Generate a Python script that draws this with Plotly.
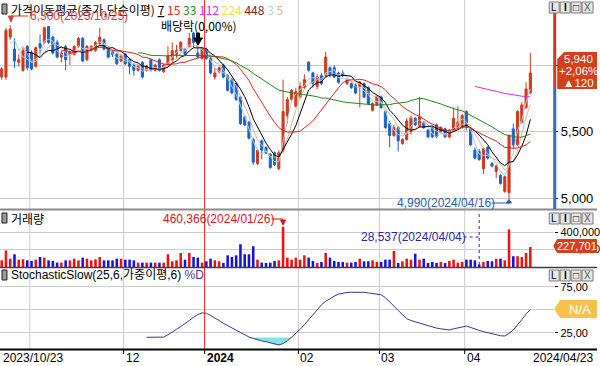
import pandas as pd
import plotly.graph_objects as go

# ---------------- data ----------------
holidays = ["2023-12-25", "2023-12-29", "2024-01-01", "2024-02-09",
            "2024-02-12", "2024-03-01", "2024-04-10"]
dates = [d.strftime("%Y-%m-%d") for d in pd.bdate_range("2023-10-23", "2024-04-23")
         if d.strftime("%Y-%m-%d") not in holidays]

open_ = [5910, 5910, 6210, 6120, 6020, 5960, 6140, 6090, 5990, 6160,
         6170, 6290, 6210, 6170, 6060, 6140, 6080, 6080, 6140, 6200,
         6040, 6110, 6110, 6160, 6190, 6130, 6100, 6080, 6030, 6080,
         6040, 6000, 5960, 6020, 5960, 6040, 5960, 6040, 5950, 6000,
         6040, 6080, 6110, 6120, 6140, 6240, 6090, 6050, 6120, 6050,
         5910, 5950, 6000, 5920, 5890, 5860, 5760, 5610, 5570, 5440,
         5260, 5430, 5380, 5330, 5340, 5220, 5360, 5620, 5740, 5690,
         5760, 5830, 6020, 5940, 5840, 5920, 5920, 5980, 5980, 5940,
         5940, 5860, 5860, 5850, 5840, 5860, 5830, 5660, 5700, 5760,
         5650, 5560, 5470, 5530, 5410, 5440, 5500, 5600, 5540, 5570,
         5510, 5530, 5550, 5500, 5520, 5460, 5510, 5530, 5530, 5650,
         5520, 5360, 5350, 5220, 5380, 5260, 5200, 5170, 5050, 5040,
         5520, 5400, 5570, 5680, 5790]
high = [5985, 6280, 6300, 6200, 6080, 6130, 6150, 6110, 6140, 6230,
        6290, 6290, 6220, 6190, 6110, 6150, 6110, 6150, 6210, 6210,
        6150, 6150, 6180, 6280, 6200, 6140, 6110, 6090, 6080, 6090,
        6050, 6010, 6000, 6030, 6000, 6050, 6010, 6050, 6010, 6140,
        6170, 6150, 6180, 6130, 6240, 6250, 6190, 6130, 6130, 6060,
        5980, 5990, 6010, 5930, 5900, 5870, 5770, 5620, 5580, 5450,
        5370, 5440, 5390, 5340, 5350, 5360, 5890, 5760, 5820, 5830,
        5870, 5930, 6030, 5950, 5930, 5940, 6100, 5990, 6000, 5950,
        5960, 5900, 5870, 5860, 5880, 5870, 5840, 5720, 5770, 5770,
        5660, 5580, 5550, 5540, 5450, 5600, 5620, 5610, 5760, 5580,
        5520, 5540, 5560, 5540, 5530, 5520, 5680, 5690, 5630, 5660,
        5530, 5380, 5370, 5380, 5390, 5270, 5250, 5180, 5170, 5480,
        5560, 5660, 5720, 5870, 6090]
low = [5890, 5890, 6190, 5980, 5990, 5950, 5960, 5960, 5980, 6080,
       6160, 6160, 6080, 6050, 6020, 5960, 6000, 6070, 6130, 6020,
       6030, 6100, 6100, 6150, 6110, 6050, 6060, 6000, 6020, 6000,
       5930, 5920, 5950, 5900, 5950, 5950, 5950, 5950, 5940, 5990,
       6010, 6050, 6100, 6070, 6130, 6130, 6050, 6040, 6040, 5930,
       5890, 5940, 5900, 5800, 5780, 5730, 5550, 5540, 5440, 5250,
       5250, 5290, 5330, 5220, 5240, 5210, 5340, 5560, 5730, 5680,
       5750, 5820, 5950, 5830, 5820, 5850, 5910, 5910, 5900, 5860,
       5910, 5850, 5820, 5780, 5680, 5750, 5700, 5650, 5690, 5670,
       5520, 5380, 5460, 5350, 5400, 5430, 5480, 5540, 5530, 5520,
       5450, 5450, 5450, 5490, 5450, 5450, 5500, 5510, 5520, 5510,
       5390, 5290, 5280, 5180, 5290, 5230, 5150, 5100, 5040, 4990,
       5370, 5390, 5560, 5670, 5780]
close = [5970, 6260, 6270, 6030, 6040, 6110, 5980, 5970, 6130, 6130,
         6280, 6170, 6090, 6060, 6090, 6040, 6100, 6140, 6200, 6030,
         6140, 6140, 6170, 6210, 6120, 6060, 6080, 6010, 6070, 6010,
         5990, 5960, 5990, 5910, 5990, 5960, 6000, 5960, 6000, 6070,
         6110, 6110, 6170, 6080, 6200, 6170, 6060, 6120, 6050, 5940,
         5940, 5980, 5910, 5810, 5790, 5740, 5560, 5550, 5450, 5270,
         5360, 5360, 5340, 5230, 5250, 5340, 5650, 5740, 5810, 5800,
         5840, 5890, 5960, 5860, 5910, 5860, 6060, 5930, 5910, 5870,
         5920, 5890, 5830, 5790, 5870, 5760, 5710, 5710, 5760, 5680,
         5530, 5470, 5530, 5430, 5440, 5580, 5600, 5550, 5610, 5530,
         5460, 5460, 5460, 5530, 5460, 5510, 5600, 5570, 5620, 5530,
         5400, 5300, 5290, 5370, 5300, 5240, 5240, 5110, 5160, 5470,
         5400, 5650, 5700, 5820, 5940]
volume = [76000, 190000, 95000, 145000, 84000, 88000, 76000, 69000, 84000, 114000,
          107000, 76000, 69000, 50000, 50000, 76000, 76000, 95000, 76000, 107000,
          95000, 76000, 88000, 114000, 76000, 76000, 76000, 95000, 95000, 84000,
          84000, 76000, 50000, 50000, 50000, 50000, 50000, 50000, 50000, 145000,
          65000, 76000, 160000, 84000, 160000, 114000, 107000, 50000, 65000, 95000,
          76000, 65000, 46000, 133000, 114000, 133000, 259000, 145000, 145000, 236000,
          84000, 50000, 46000, 50000, 69000, 76000, 460366, 107000, 84000, 107000,
          84000, 133000, 107000, 69000, 46000, 57000, 160000, 107000, 69000, 57000,
          57000, 50000, 50000, 57000, 95000, 65000, 65000, 76000, 57000, 57000,
          84000, 84000, 183000, 46000, 65000, 95000, 84000, 152000, 84000, 95000,
          46000, 57000, 46000, 57000, 46000, 69000, 84000, 50000, 57000, 84000,
          84000, 76000, 28537, 57000, 69000, 65000, 95000, 95000, 76000, 430000,
          122000, 122000, 114000, 160000, 227701]
stoch_d = [None] * 34 + [
    20.3, 20.2, 20.1, 20.0, 20.5, 23, 26.4, 29, 32, 35,
    38.5, 42, 45, 46.8, 46.5, 44, 41.5, 38.5, 35.5, 33,
    30.4, 28, 25.5, 23, 20.6, 19, 17.5, 16.3, 15.5, 14.5,
    13, 12, 13.5, 16.5, 20.5, 24.5, 29, 34, 39.5, 45,
    51, 55.5, 59.5, 62.5, 65, 67.2, 68.3, 69, 69.2, 69.3,
    69.3, 69.2, 68.5, 67.7, 67, 66.5, 63.5, 58.5, 54, 49.5,
    45, 40.5, 38.5, 37, 35.7, 34.3, 33, 31.5, 30.3, 29.5,
    28.5, 28.3, 29.5, 30.3, 31.5, 32.5, 31, 29, 27.8, 26.5,
    25.2, 24, 23, 22, 21.7, 24.5, 28.3, 33.5, 39.5, 45.5,
    50.5]
ma_periods = [3, 5, 7, 15, 33, 112]
ma_colors = {3: "#9fd3ec", 5: "#d9b39a", 7: "#000000", 15: "#e0241c",
             33: "#1e8a1e", 112: "#e02ae0"}

# ---------------- styling ----------------
W, H = 600, 366
RED, BLUE = "#d2391d", "#1f62c3"
VRED, VBLUE = "#ee1111", "#1414d8"
GRID = "#cccccc"
LAT = "Liberation Sans, Noto Sans CJK KR, sans-serif"
KR = "Noto Sans CJK KR, sans-serif"


def X(p):
    return p / W


def Y(p):
    return 1 - p / H


def path(pts):
    s = "M " + " L ".join(f"{X(a):.5f},{Y(b):.5f}" for a, b in pts) + " Z"
    return s


fig = go.Figure()

# price candles
fig.add_trace(go.Candlestick(
    x=dates, open=open_, high=high, low=low, close=close,
    increasing=dict(line=dict(color=RED, width=1), fillcolor=RED),
    decreasing=dict(line=dict(color=BLUE, width=1), fillcolor=BLUE),
    whiskerwidth=0, xaxis="x", yaxis="y", hoverinfo="skip"))

cs = pd.Series(close, dtype=float)
for n in ma_periods:
    ma = cs.rolling(n).mean()
    fig.add_trace(go.Scatter(x=dates, y=ma.tolist(), mode="lines",
                             line=dict(color=ma_colors[n], width=1),
                             xaxis="x", yaxis="y", hoverinfo="skip"))

# volume
vcolors = [VRED if c >= o else VBLUE for o, c in zip(open_, close)]
fig.add_trace(go.Bar(x=dates, y=volume, marker=dict(color=vcolors, line=dict(width=0)),
                     width=0.6, xaxis="x2", yaxis="y2", hoverinfo="skip"))

# stochastic fill below 20
idx = [i for i, v in enumerate(stoch_d) if v is not None and v < 20]
lo, hi = min(idx) - 1, max(idx) + 1
fx = dates[lo:hi + 1]
fig.add_trace(go.Scatter(x=fx, y=[20] * len(fx), mode="lines", line=dict(width=0),
                         xaxis="x3", yaxis="y3", hoverinfo="skip"))
fig.add_trace(go.Scatter(x=fx, y=[min(v, 20) for v in stoch_d[lo:hi + 1]], mode="lines",
                         line=dict(width=0), fill="tonexty", fillcolor="#7ee6e0",
                         xaxis="x3", yaxis="y3", hoverinfo="skip"))
fig.add_trace(go.Scatter(x=dates, y=stoch_d, mode="lines", line=dict(color="#4b2d8f", width=1),
                         xaxis="x3", yaxis="y3", hoverinfo="skip"))

# ---------------- layout ----------------
XR = [-0.397, 129.6]
xdom = [0, 557 / W]
common_x = dict(type="category", showticklabels=False, showgrid=False, zeroline=False,
                showline=False, ticks="", fixedrange=True)
tickfont13 = dict(family=LAT, size=13, color="black")
tickfont11 = dict(family=LAT, size=11, color="black")

fig.update_layout(
    width=W, height=H, margin=dict(l=0, r=0, t=0, b=0),
    paper_bgcolor="white", plot_bgcolor="white", showlegend=False,
    xaxis=dict(domain=xdom, range=XR, anchor="y", rangeslider=dict(visible=False), **common_x),
    xaxis2=dict(domain=xdom, matches="x", anchor="y2", **common_x),
    xaxis3=dict(domain=xdom, matches="x", anchor="y3", **common_x),
    yaxis=dict(domain=[Y(208), 1], range=[4925, 6489], side="right", anchor="x",
               tickvals=[5000, 5500, 6000], ticktext=["5,000", "5,500", ""],
               showgrid=True, gridcolor=GRID, gridwidth=1, zeroline=False,
               ticks="outside", ticklen=3, tickcolor="black", tickfont=tickfont13, fixedrange=True),
    yaxis2=dict(domain=[Y(267), Y(211)], range=[0, 640000], side="right", anchor="x2",
                tickvals=[200000, 400000], ticktext=["200,000", "400,000"],
                showgrid=True, gridcolor=GRID, zeroline=False,
                ticks="outside", ticklen=3, tickcolor="black", tickfont=tickfont11, fixedrange=True),
    yaxis3=dict(domain=[Y(349), Y(268)], range=[7.6, 95.6], side="right", anchor="x3",
                tickvals=[25, 50, 75], ticktext=["25,00", "", "75,00"],
                showgrid=True, gridcolor=GRID, zeroline=False,
                ticks="outside", ticklen=3, tickcolor="black", tickfont=tickfont11, fixedrange=True),
)

shapes = []
annots = []

# month gridlines and labels
month_starts = [i for i in range(1, len(dates)) if dates[i][5:7] != dates[i - 1][5:7]]
for i in month_starts:
    xpos = i - 0.4
    if dates[i][5:7] == "01":
        col = "#e02020"
        layer = "above"
    else:
        col = GRID
        layer = "below"
    shapes.append(dict(type="line", xref="x", yref="paper", x0=xpos, x1=xpos,
                       y0=Y(349), y1=1, line=dict(color=col, width=1), layer=layer))
    if dates[i][5:7] != "11":
        shapes.append(dict(type="line", xref="x", yref="paper", x0=xpos, x1=xpos,
                           y0=Y(349), y1=Y(354), line=dict(color="black", width=1)))
        if dates[i][5:7] == "01":
            txt = "<b>" + dates[i][:4] + "</b>"
        else:
            txt = dates[i][5:7]
        annots.append(dict(xref="x", yref="paper", x=xpos, y=Y(358), text=txt,
                           xanchor="left", yanchor="middle", showarrow=False,
                           font=dict(family=LAT, size=12, color="black")))
annots.append(dict(xref="paper", yref="paper", x=X(1), y=Y(358), text=dates[0].replace("-", "/"),
                   xanchor="left", yanchor="middle", showarrow=False,
                   font=dict(family=LAT, size=12, color="black")))
annots.append(dict(xref="paper", yref="paper", x=X(598), y=Y(358), text=dates[-1].replace("-", "/"),
                   xanchor="right", yanchor="middle", showarrow=False,
                   font=dict(family=LAT, size=12, color="black")))

# panel separators
shapes.append(dict(type="line", xref="paper", yref="paper", x0=0, x1=1, y0=Y(209.5), y1=Y(209.5),
                   line=dict(color="#8a8a8a", width=2)))
shapes.append(dict(type="line", xref="paper", yref="paper", x0=0, x1=1, y0=Y(267.5), y1=Y(267.5),
                   line=dict(color="#404040", width=1.5)))
shapes.append(dict(type="line", xref="paper", yref="paper", x0=0, x1=1, y0=Y(349.5), y1=Y(349.5),
                   line=dict(color="black", width=2)))

# price indicator bar on right axis
shapes.append(dict(type="rect", xref="paper", yref="paper", x0=X(556), x1=X(559), y0=Y(88), y1=Y(13),
                   fillcolor=RED, line=dict(width=0)))
shapes.append(dict(type="rect", xref="paper", yref="paper", x0=X(556), x1=X(559), y0=Y(209), y1=Y(88),
                   fillcolor="#2d6fd0", line=dict(width=0)))

# current price tag
last, prev = close[-1], close[-2]
chg = last - prev
pct = chg / prev * 100
shapes.append(dict(type="path", xref="paper", yref="paper",
                   path=path([(567, 52), (600, 52), (600, 89), (560, 89), (560, 59)]),
                   fillcolor="#d4401c", line=dict(width=0)))
for yy, t in [(58.5, f"{last:,}"), (71, ("+" if chg >= 0 else "") + f"{pct:.2f}%".replace(".", ",")),
              (83.5, ("▲" if chg >= 0 else "▼") + f"{abs(chg)}")]:
    annots.append(dict(xref="paper", yref="paper", x=X(581), y=Y(yy), text=t, showarrow=False,
                       xanchor="center", yanchor="middle", font=dict(family=LAT, size=11.5, color="white")))

# volume tag
shapes.append(dict(type="path", xref="paper", yref="paper",
                   path=path([(556, 246), (560, 239), (600, 239), (600, 253), (560, 253)]),
                   fillcolor="#d4401c", line=dict(width=0)))
annots.append(dict(xref="paper", yref="paper", x=X(580), y=Y(246), text=f"{volume[-1]:,}",
                   showarrow=False, xanchor="center", yanchor="middle",
                   font=dict(family=LAT, size=11, color="white")))

# N/A tag
shapes.append(dict(type="path", xref="paper", yref="paper",
                   path=path([(557, 309), (563, 300), (600, 300), (600, 318), (563, 318)]),
                   fillcolor="#f5c34b", line=dict(width=0)))
annots.append(dict(xref="paper", yref="paper", x=X(583), y=Y(309), text="N/A",
                   showarrow=False, xanchor="center", yanchor="middle",
                   font=dict(family=LAT, size=13, color="white")))

# window buttons
for top in (2, 213, 270):
    for x0, x1, lab in [(552, 562, "L"), (563, 573, "I"), (574, 584, "□"), (585, 596, "X")]:
        shapes.append(dict(type="rect", xref="paper", yref="paper", x0=X(x0), x1=X(x1),
                           y0=Y(top + 11), y1=Y(top), fillcolor="#e6e6e6",
                           line=dict(color="#7a7a7a", width=1)))
        annots.append(dict(xref="paper", yref="paper", x=X((x0 + x1) / 2), y=Y(top + 5.5),
                           text=("<b>" + lab + "</b>") if lab == "I" else lab, showarrow=False,
                           xanchor="center", yanchor="middle",
                           font=dict(family=LAT, size=10, color="#555555" if lab == "X" else "black")))

# panel title icons
for top in (4, 213, 270):
    shapes.append(dict(type="rect", xref="paper", yref="paper", x0=X(2), x1=X(7),
                       y0=Y(top + 10), y1=Y(top), fillcolor="#9a9a9a",
                       line=dict(color="#202020", width=1)))

# header
hdr = ('가격이동평균(종가,단순이평) <u>7</u> <span style="color:#e0241c">15</span> '
       '<span style="color:#1e8a1e">33</span> <span style="color:#e02ae0">112</span> '
       '<span style="color:#eee040">224</span> <span style="color:#8b1a1a">448</span> '
       '<span style="color:#a8d4ec">3</span> <span style="color:#d9b39a">5</span>')
annots.append(dict(xref="paper", yref="paper", x=X(9), y=Y(9), text=hdr, showarrow=False,
                   xanchor="left", yanchor="middle", font=dict(family=KR, size=12, color="black")))
annots.append(dict(xref="paper", yref="paper", x=X(9), y=Y(218), text="거래량", showarrow=False,
                   xanchor="left", yanchor="middle", font=dict(family=KR, size=12, color="black")))
annots.append(dict(xref="paper", yref="paper", x=X(9), y=Y(275),
                   text='StochasticSlow(25,6,가중이평,6) <span style="color:#5a2d91">%D</span>',
                   showarrow=False, xanchor="left", yanchor="middle",
                   font=dict(family=LAT, size=12, color="black")))

# high marker
hi_i = high.index(max(high))
annots.append(dict(xref="paper", yref="paper", x=X(28), y=Y(16),
                   text=f"{max(high):,}({dates[hi_i].replace('-', '/')})", showarrow=False,
                   xanchor="left", yanchor="middle", font=dict(family=LAT, size=12, color="#e03a3a")))
shapes.append(dict(type="line", xref="paper", yref="paper", x0=X(11), x1=X(28), y0=Y(16), y1=Y(16),
                   line=dict(color="#e03a3a", width=1)))
shapes.append(dict(type="path", xref="paper", yref="paper",
                   path=path([(8.5, 16), (13.5, 16), (11, 22)]), fillcolor="#e03a3a",
                   line=dict(color="#e03a3a", width=1)))

# ex-dividend marker
annots.append(dict(xref="paper", yref="paper", x=X(160), y=Y(26), text="배당락(0,00%)",
                   showarrow=False, xanchor="left", yanchor="middle",
                   font=dict(family=KR, size=12, color="black")))
shapes.append(dict(type="path", xref="paper", yref="paper",
                   path=path([(197.5, 33), (200.5, 33), (200.5, 38), (203.5, 38), (199, 45),
                              (194.5, 38), (197.5, 38)]),
                   fillcolor="black", line=dict(color="black", width=1)))

# low marker
lo_i = low.index(min(low))
annots.append(dict(xref="paper", yref="paper", x=X(397), y=Y(203),
                   text=f"{min(low):,}({dates[lo_i].replace('-', '/')})", showarrow=False,
                   xanchor="left", yanchor="middle", font=dict(family=LAT, size=12, color="#2a5db0")))
shapes.append(dict(type="line", xref="paper", yref="paper", x0=X(494), x1=X(511.5), y0=Y(203), y1=Y(203),
                   line=dict(color="#2a5db0", width=1)))
shapes.append(dict(type="path", xref="paper", yref="paper",
                   path=path([(509, 203), (514, 203), (511.5, 199.5)]), fillcolor="#2a5db0",
                   line=dict(color="#2a5db0", width=1)))

# volume max marker
vmax_i = volume.index(max(volume))
annots.append(dict(xref="paper", yref="paper", x=X(162), y=Y(219),
                   text=f"{max(volume):,}({dates[vmax_i].replace('-', '/')})", showarrow=False,
                   xanchor="left", yanchor="middle", font=dict(family=LAT, size=12, color="#d01818")))
shapes.append(dict(type="line", xref="paper", yref="paper", x0=X(273), x1=X(284.5), y0=Y(219), y1=Y(219),
                   line=dict(color="#d01818", width=1)))
shapes.append(dict(type="path", xref="paper", yref="paper",
                   path=path([(282, 220), (287, 220), (284.5, 225)]), fillcolor="#d01818",
                   line=dict(color="#d01818", width=1)))

# volume min marker
vmin_i = volume.index(min(volume))
annots.append(dict(xref="paper", yref="paper", x=X(361), y=Y(237),
                   text=f"{min(volume):,}({dates[vmin_i].replace('-', '/')})", showarrow=False,
                   xanchor="left", yanchor="middle", font=dict(family=LAT, size=12, color="#2828a0")))
shapes.append(dict(type="line", xref="paper", yref="paper", x0=X(466), x1=X(482), y0=Y(237), y1=Y(237),
                   line=dict(color="#2828a0", width=1, dash="3px,3px")))
shapes.append(dict(type="line", xref="x", yref="paper", x0=vmin_i, x1=vmin_i, y0=Y(265), y1=Y(212),
                   line=dict(color="#2828a0", width=1, dash="3px,3px")))

fig.update_layout(shapes=shapes, annotations=annots)
fig.write_html("out.html", config={"displayModeBar": False},
               post_script="document.body.style.margin='0px';document.body.style.overflow='hidden';")
